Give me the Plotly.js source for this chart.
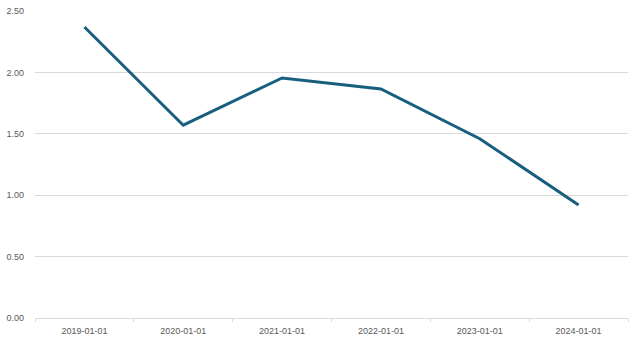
<!DOCTYPE html>
<html>
<head>
<meta charset="utf-8">
<script src="https://cdn.plot.ly/plotly-3.0.1.min.js"></script>
<style>html,body{margin:0;padding:0;background:#fff;}#chart{width:640px;height:344px;}</style>
</head>
<body>
<div id="chart"></div>
<script>
const categories = ["2019-01-01","2020-01-01","2021-01-01","2022-01-01","2023-01-01","2024-01-01"];
const values = [2.37, 1.57, 1.955, 1.865, 1.46, 0.92];

const trace = {
  x: categories, y: values, type: 'scatter', mode: 'lines',
  line: {color: '#185f7e', width: 3}, hoverinfo: 'skip'
};
const layout = {
  width: 640, height: 344,
  margin: {l: 35, r: 12, t: 11, b: 26, pad: 0},
  paper_bgcolor: '#fff', plot_bgcolor: '#fff',
  font: {family: 'Liberation Sans, Arial, sans-serif', size: 9, color: '#595959'},
  showlegend: false,
  xaxis: {
    type: 'category', tickson: 'boundaries', ticks: 'outside', ticklen: 3, tickcolor: '#d9d9d9',
    showline: true, linecolor: '#d9d9d9', linewidth: 1, showgrid: false, zeroline: false,
    ticklabelstandoff: 4,
    range: [-0.5, 5.5], fixedrange: true
  },
  yaxis: {
    range: [0, 2.5], dtick: 0.5, tick0: 0, tickformat: '.2f',
    showgrid: true, gridcolor: '#d9d9d9', gridwidth: 1, zeroline: false, showline: false,
    ticks: '', ticklabelstandoff: 10, fixedrange: true
  }
};
Plotly.newPlot('chart', [trace], layout, {displayModeBar: false, staticPlot: true});
</script>
</body>
</html>
